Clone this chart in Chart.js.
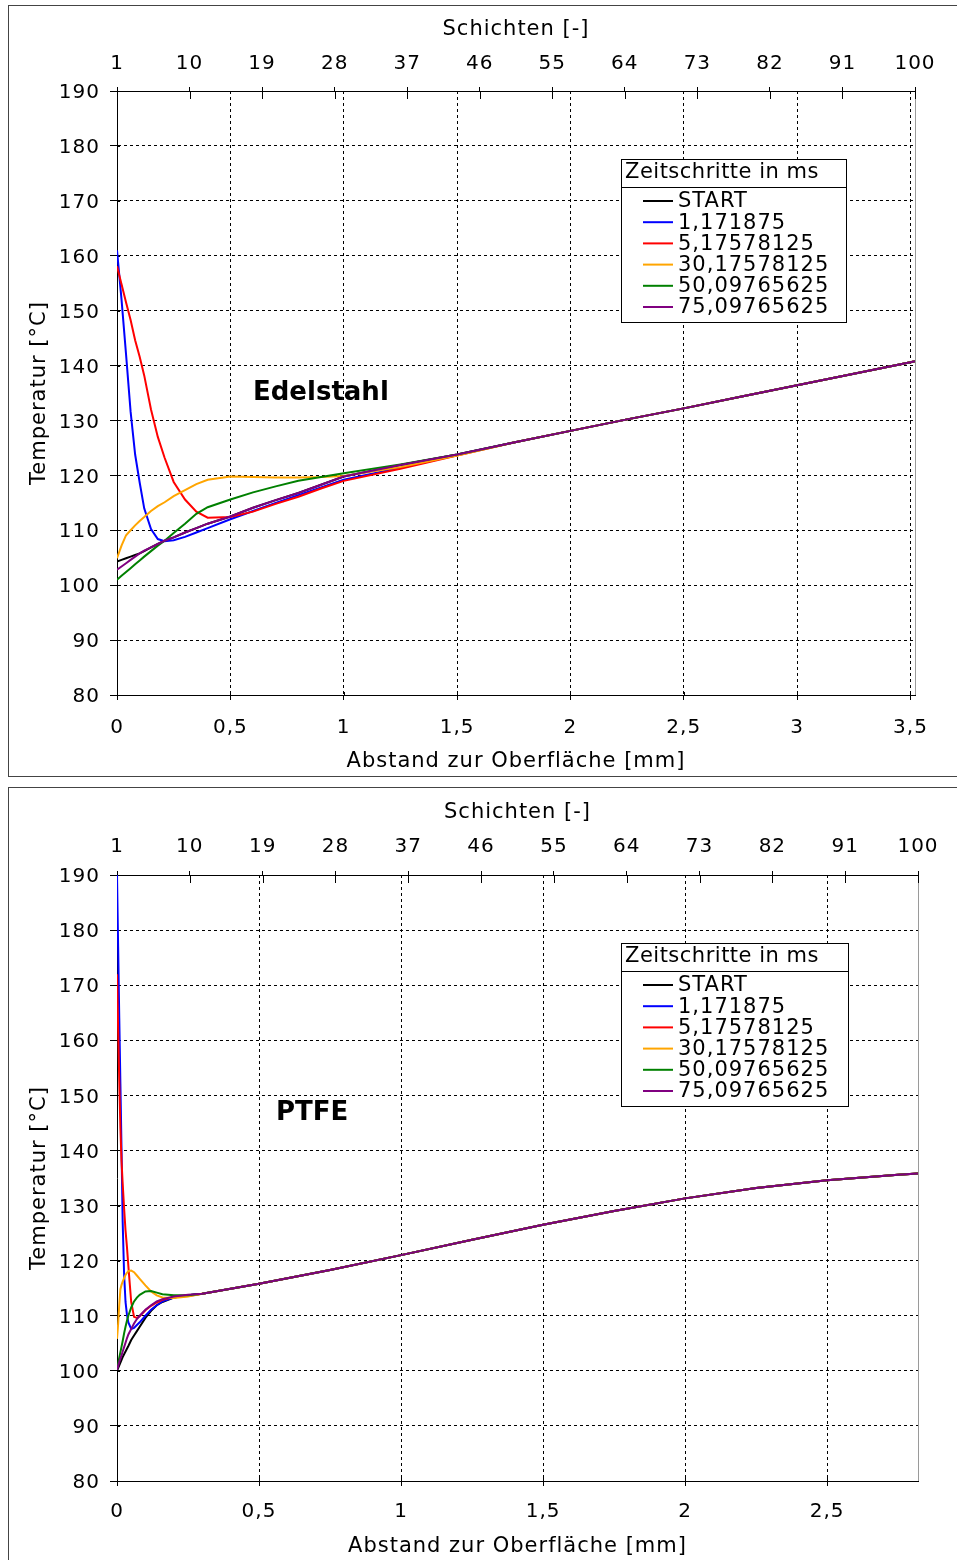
<!DOCTYPE html>
<html>
<head>
<meta charset="utf-8">
<script src="https://cdn.jsdelivr.net/npm/chart.js@4"></script>
<style>
  body { margin: 0; background: #fff; width: 957px; height: 1560px; overflow: hidden; position: relative; }
  .panel { position: absolute; left: 8px; width: 960px; border: 1px solid #444; background: #fff; }
  #p1 { top: 5px; height: 770px; }
  #p2 { top: 787px; height: 780px; }
  canvas { position: absolute; left: 0; top: 0; }
</style>
</head>
<body>
<div class="panel" id="p1"><canvas id="stahl" width="948" height="770"></canvas></div>
<div class="panel" id="p2"><canvas id="ptfe" width="948" height="772"></canvas></div>
<script>
// legend entries (time steps in ms)
const seriesNames = ['START', '1,171875', '5,17578125', '30,17578125', '50,09765625', '75,09765625'];
const seriesColors = ['#000000', '#0000ff', '#ff0000', '#ffa500', '#008000', '#800080'];

const tempTicks = [80, 90, 100, 110, 120, 130, 140, 150, 160, 170, 180, 190];
const layerTicks = [1, 10, 19, 28, 37, 46, 55, 64, 73, 82, 91, 100];
const stahlMmTicks = [0, 0.5, 1, 1.5, 2, 2.5, 3, 3.5];
const ptfeMmTicks = [0, 0.5, 1, 1.5, 2, 2.5];
const stahlMaxMm = 3.52; // depth of layer 100
const ptfeMaxMm = 2.82;

// Edelstahl: distance from surface [mm]
const stahlMm = [0, 0.02, 0.04, 0.06, 0.08, 0.1, 0.12, 0.15, 0.18, 0.21, 0.25, 0.3, 0.35, 0.4, 0.5, 0.6, 0.7, 0.8, 0.9, 1.0, 1.25, 1.5,
                 1.75, 2.0, 2.25, 2.5, 2.75, 3.0, 3.25, 3.5, 3.52];
const stahlTail = [126.0, 128.1, 130.2, 132.2, 134.3, 136.4, 138.5, 140.6, 140.8];
const stahlStart = [104.3, 104.6, 104.9, 105.2, 105.5, 105.8, 106.2, 106.9, 107.5, 108.1, 108.7, 109.6, 110.4, 111.2, 112.5, 114.1, 115.5, 116.8, 118.3, 119.8, 121.9, 123.8].concat(stahlTail);
const stahlT1 = [161.0, 152.0, 142.0, 131.6, 123.8, 118.7, 114.0, 110.2, 108.4, 108.0, 108.2, 108.8, 109.6, 110.4, 112.0, 113.5, 115.0, 116.4, 117.8, 119.2, 121.4, 123.7].concat(stahlTail);
const stahlT5 = [158.1, 154.8, 151.5, 148.3, 144.6, 141.6, 138.2, 132.0, 127.0, 123.2, 118.8, 115.6, 113.4, 112.3, 112.4, 113.4, 114.8, 116.1, 117.6, 119.0, 121.2, 123.6].concat(stahlTail);
const stahlT30 = [104.9, 107.2, 109.1, 110.0, 110.9, 111.7, 112.4, 113.5, 114.4, 115.1, 116.2, 117.3, 118.4, 119.2, 119.8, 119.7, 119.6, 119.6, 119.7, 119.9, 121.5, 123.6].concat(stahlTail);
const stahlT50 = [101.0, 101.7, 102.4, 103.1, 103.8, 104.5, 105.2, 106.2, 107.2, 108.1, 109.5, 111.2, 113.0, 114.2, 115.6, 116.9, 118.0, 119.0, 119.7, 120.4, 122.0, 123.8].concat(stahlTail);
const stahlT75 = [102.8, 103.4, 104.0, 104.6, 105.2, 105.8, 106.3, 106.9, 107.5, 108.1, 108.7, 109.6, 110.4, 111.2, 112.5, 114.1, 115.5, 116.8, 118.3, 119.8, 121.9, 123.8].concat(stahlTail);

// PTFE: distance from surface [mm]
const ptfeMm = [0, 0.004, 0.008, 0.012, 0.016, 0.02, 0.025, 0.03, 0.035, 0.04, 0.05, 0.06, 0.07, 0.08, 0.1, 0.12, 0.14, 0.16, 0.2, 0.25, 0.3,
                0.5, 0.75, 1.0, 1.25, 1.5, 1.75, 2.0, 2.25, 2.5, 2.75, 2.82];
const ptfeTail = [115.8, 118.3, 121.0, 123.8, 126.5, 129.0, 131.3, 133.2, 134.6, 135.6, 135.8];
const ptfeStart = [100.0, 100.5, 101.0, 101.5, 102.0, 102.5, 103.0, 103.5, 104.0, 104.5, 105.6, 106.4, 107.2, 108.0, 109.6, 110.9, 111.9, 112.5, 113.3, 113.7, 114.0].concat(ptfeTail);
const ptfeT1 = [190.0, 177.0, 164.0, 152.0, 140.0, 127.0, 117.5, 112.5, 110.2, 108.8, 107.6, 107.8, 108.3, 108.8, 110.0, 111.1, 111.9, 112.6, 113.3, 113.7, 114.0].concat(ptfeTail);
const ptfeT5 = [172.0, 162.0, 152.5, 144.0, 138.0, 134.0, 129.5, 125.5, 122.5, 119.0, 112.5, 109.8, 109.6, 109.9, 111.0, 111.8, 112.4, 112.9, 113.4, 113.6, 114.0].concat(ptfeTail);
const ptfeT30 = [105.8, 108.5, 112.0, 114.8, 115.6, 116.2, 116.8, 117.4, 117.8, 118.1, 118.2, 117.9, 117.3, 116.7, 115.5, 114.4, 113.7, 113.3, 113.2, 113.5, 114.0].concat(ptfeTail);
const ptfeT50 = [100.3, 101.3, 102.4, 103.4, 104.4, 105.4, 106.8, 108.0, 109.1, 110.0, 111.5, 112.6, 113.3, 113.8, 114.4, 114.5, 114.2, 113.9, 113.7, 113.7, 114.0].concat(ptfeTail);
const ptfeT75 = [100.2, 100.9, 101.6, 102.2, 102.8, 103.5, 104.3, 105.1, 105.9, 106.6, 107.6, 108.6, 109.4, 110.0, 111.1, 111.9, 112.6, 113.0, 113.5, 113.8, 114.0].concat(ptfeTail);

Chart.defaults.font.family = 'DejaVu Sans';
Chart.defaults.color = '#000';

const tickFont = { family: 'DejaVu Sans', size: 20 };
const titleFont = { family: 'DejaVu Sans', size: 21 };

function comma(v) {
  return String(v).replace('.', ',');
}

function line(ctx, x1, y1, x2, y2) {
  ctx.beginPath();
  ctx.moveTo(x1, y1);
  ctx.lineTo(x2, y2);
  ctx.stroke();
}

// the original lettering runs a bit wider than DejaVu
const spacing = {
  id: 'spacing',
  beforeUpdate(chart) { chart.ctx.letterSpacing = '1px'; },
  beforeDraw(chart) { chart.ctx.letterSpacing = '1px'; }
};

// grey right border + the part of the tick marks that reaches into the plot
const frame = {
  id: 'frame',
  beforeDatasetsDraw(chart) {
    const a = chart.chartArea, ctx = chart.ctx;
    ctx.save();
    ctx.lineWidth = 1;
    ctx.strokeStyle = '#9a9a9a';
    const r = Math.round(a.right) + 0.5;
    line(ctx, r, a.top, r, a.bottom);
    ctx.strokeStyle = '#000';
    const {x, x2, y} = chart.scales;
    x2.ticks.forEach(t => {
      const px = Math.round(x2.getPixelForValue(t.value)) + 0.5;
      line(ctx, px, a.top, px, a.top + 8);
    });
    x.ticks.forEach(t => {
      const px = Math.round(x.getPixelForValue(t.value)) + 0.5;
      line(ctx, px, a.bottom, px, a.bottom - 3);
    });
    y.ticks.forEach(t => {
      const py = Math.round(y.getPixelForValue(t.value)) + 0.5;
      line(ctx, a.left, py, a.left + 3, py);
    });
    ctx.restore();
  }
};

// boxed legend with a title row
const boxLegend = {
  id: 'boxLegend',
  afterDraw(chart, args, o) {
    const ctx = chart.ctx;
    ctx.save();
    ctx.fillStyle = '#fff';
    ctx.fillRect(o.left, o.top, o.right - o.left, o.bottom - o.top);
    ctx.strokeStyle = '#000';
    ctx.lineWidth = 1;
    ctx.strokeRect(o.left + 0.5, o.top + 0.5, o.right - o.left, o.bottom - o.top);
    line(ctx, o.left, o.sep + 0.5, o.right, o.sep + 0.5);
    ctx.fillStyle = '#000';
    ctx.font = '21px "DejaVu Sans"';
    ctx.textBaseline = 'middle';
    ctx.letterSpacing = '0.5px';
    ctx.fillText('Zeitschritte in ms', o.left + 4, o.titleY);
    ctx.letterSpacing = '1px';
    chart.data.datasets.forEach((ds, i) => {
      const yy = o.rowY + i * o.rowH;
      ctx.strokeStyle = ds.borderColor;
      ctx.lineWidth = 2;
      line(ctx, o.left + 22, yy, o.left + 52, yy);
      ctx.fillStyle = '#000';
      ctx.fillText(ds.label, o.left + 57, yy + 1);
    });
    ctx.restore();
  }
};

const material = {
  id: 'material',
  afterDatasetsDraw(chart, args, o) {
    const ctx = chart.ctx;
    ctx.save();
    ctx.fillStyle = '#000';
    ctx.font = 'bold 26px "DejaVu Sans"';
    ctx.letterSpacing = '0px';
    ctx.textBaseline = 'middle';
    ctx.fillText(o.text, o.x, o.y);
    ctx.restore();
  }
};

function buildChart(canvasId, xs, ysList, cfg) {
  const datasets = ysList.map((ys, i) => ({
    label: seriesNames[i],
    data: xs.map((x, k) => ({ x: x, y: ys[k] })),
    borderColor: seriesColors[i],
    backgroundColor: seriesColors[i],
    borderWidth: 2,
    pointRadius: 0,
    tension: 0,
    order: ysList.length - i
  }));

  return new Chart(document.getElementById(canvasId), {
    type: 'line',
    data: { datasets },
    options: {
      responsive: false,
      animation: false,
      layout: { padding: { left: 0, right: cfg.padRight, top: 0, bottom: 0 } },
      plugins: {
        legend: { display: false },
        tooltip: { enabled: false },
        boxLegend: cfg.legend,
        material: cfg.label
      },
      scales: {
        x: {
          type: 'linear', position: 'bottom', min: 0, max: cfg.maxMm,
          afterBuildTicks: s => { s.ticks = cfg.mmTicks.map(v => ({ value: v })); },
          afterFit: s => { s.height = cfg.bottomH; },
          ticks: { font: tickFont, color: '#000', padding: cfg.xPad, maxRotation: 0, callback: v => comma(v) },
          grid: { color: '#000', lineWidth: 1, tickLength: 5, tickBorderDash: [] },
          border: { color: '#000', width: 1, dash: [3, 3] },
          title: { display: true, text: 'Abstand zur Oberfläche [mm]', font: titleFont, color: '#000',
                   padding: { top: 0, bottom: cfg.xTitlePad } }
        },
        x2: {
          type: 'linear', position: 'top', min: 1, max: 100,
          afterBuildTicks: s => { s.ticks = layerTicks.map(v => ({ value: v })); },
          afterFit: s => { s.height = cfg.topH; },
          ticks: { font: tickFont, color: '#000', padding: cfg.x2Pad, maxRotation: 0 },
          grid: { drawOnChartArea: false, color: '#000', tickLength: 4 },
          border: { color: '#000', width: 1 },
          title: { display: true, text: 'Schichten [-]', font: titleFont, color: '#000',
                   padding: { top: cfg.x2TitlePad, bottom: 0 } }
        },
        y: {
          type: 'linear', position: 'left', min: 80, max: 190,
          afterBuildTicks: s => { s.ticks = tempTicks.map(v => ({ value: v })); },
          afterFit: s => { s.width = 108; },
          ticks: { font: tickFont, color: '#000', padding: 10, labelOffset: 2 },
          grid: { color: '#000', lineWidth: 1, tickLength: 7, tickBorderDash: [] },
          border: { color: '#000', width: 1, dash: [3, 3] },
          title: { display: true, text: 'Temperatur [°C]', font: titleFont, color: '#000',
                   padding: { top: 18, bottom: 0 } }
        }
      }
    },
    plugins: [spacing, frame, boxLegend, material]
  });
}

buildChart('stahl', stahlMm, [stahlStart, stahlT1, stahlT5, stahlT30, stahlT50, stahlT75], {
  maxMm: stahlMaxMm, mmTicks: stahlMmTicks, padRight: 42,
  topH: 85, bottomH: 81, xPad: 16, x2Pad: 11, xTitlePad: 2, x2TitlePad: 11,
  legend: { left: 612, top: 153, right: 837, bottom: 316, sep: 181, titleY: 167, rowY: 195, rowH: 21.2 },
  label: { text: 'Edelstahl', x: 244, y: 387 }
});

buildChart('ptfe', ptfeMm, [ptfeStart, ptfeT1, ptfeT5, ptfeT30, ptfeT50, ptfeT75], {
  maxMm: ptfeMaxMm, mmTicks: ptfeMmTicks, padRight: 39,
  topH: 87, bottomH: 79, xPad: 14, x2Pad: 12, xTitlePad: 1, x2TitlePad: 12,
  legend: { left: 612, top: 155, right: 839, bottom: 318, sep: 183, titleY: 169, rowY: 197, rowH: 21.2 },
  label: { text: 'PTFE', x: 267, y: 325 }
});
</script>
</body>
</html>
